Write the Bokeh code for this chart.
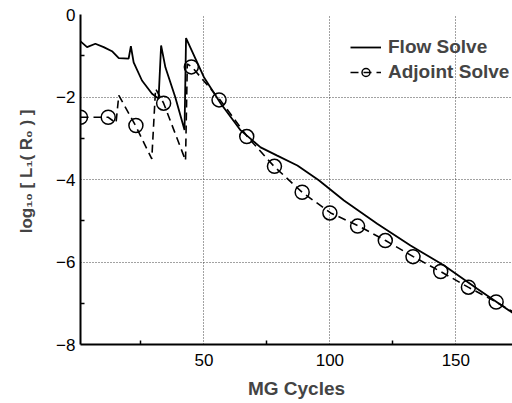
from bokeh.plotting import figure
from bokeh.models import FixedTicker, Title, Legend, LegendItem
from bokeh.embed import file_html
from bokeh.resources import INLINE

# ---- data ----
flow_x = [1, 3.6, 6.9, 10.2, 13.5, 16.2, 20.1, 21.0, 22.1, 25.4, 29.4, 32.0, 33.0, 34.7,
          38.6, 42.3, 42.9, 50.0, 56.6, 64.6, 72.5, 79.1, 87.1, 95.6, 105.6, 118.8,
          132.0, 145.2, 158.5, 172.5]
flow_y = [-0.65, -0.79, -0.71, -0.79, -0.89, -1.06, -1.07, -0.77, -1.16, -1.60, -1.92,
          -2.04, -0.75, -1.28, -2.00, -2.80, -0.57, -1.52, -2.15, -2.81, -3.22, -3.42,
          -3.66, -4.02, -4.51, -5.07, -5.60, -6.08, -6.65, -7.23]

adj_x = [1, 11.9, 15.1, 16.2, 22.8, 29.3, 30.8, 34.0, 42.7, 43.4, 45.2, 56.4, 67.2,
         77.8, 89.0, 100.3, 111.5, 122.1, 133.1, 143.9, 154.9, 166.0, 172.5]
adj_y = [-2.49, -2.49, -2.63, -1.96, -2.69, -3.50, -1.80, -2.15, -3.54, -1.20, -1.27,
         -2.07, -2.96, -3.68, -4.31, -4.81, -5.13, -5.48, -5.87, -6.23, -6.61, -6.97,
         -7.20]

mark_x = [1, 12, 23, 34, 45, 56, 67, 78, 89, 100, 111, 122, 133, 144, 155, 166]
mark_y = [-2.49, -2.49, -2.69, -2.15, -1.27, -2.07, -2.96, -3.68, -4.31, -4.81, -5.13,
          -5.48, -5.87, -6.23, -6.61, -6.97]

x_ticks = [50, 100, 150]
x_minor = [25, 75, 125]
y_ticks = [0, -2, -4, -6, -8]
y_minor = [-1, -3, -5, -7]

x_label = "MG Cycles"
y_label = "log\u2081\u2080 [ L\u2081( R\u2080 ) ]"
series_names = ["Flow Solve", "Adjoint Solve"]

FONT = "Liberation Sans"

p = figure(width=512, height=403, x_range=(1, 172.5), y_range=(-8, 0),
           output_backend="svg", toolbar_location=None,
           min_border_left=80, min_border_right=0, min_border_top=14,
           min_border_bottom=59)
p.outline_line_color = None
p.background_fill_color = "white"
p.border_fill_color = "white"

# axes
p.xaxis.ticker = FixedTicker(ticks=x_ticks, minor_ticks=x_minor)
p.yaxis.ticker = FixedTicker(ticks=y_ticks, minor_ticks=y_minor)
for ax in (p.xaxis[0], p.yaxis[0]):
    ax.axis_line_width = 2
    ax.axis_line_color = "black"
    ax.major_tick_in = 0
    ax.major_tick_out = 0
    ax.minor_tick_in = 4
    ax.minor_tick_out = 0
    ax.minor_tick_line_width = 1.5
    ax.minor_tick_line_color = "black"
    ax.major_label_text_font = FONT
    ax.major_label_text_font_size = "17px"
    ax.major_label_text_color = "black"
p.xaxis.major_label_standoff = 9
p.yaxis.major_label_standoff = 5
p.xaxis.axis_label = x_label
p.xaxis.axis_label_text_font = FONT
p.xaxis.axis_label_text_font_size = "19px"
p.xaxis.axis_label_text_font_style = "bold"
p.xaxis.axis_label_standoff = 9

t = Title(text=y_label, align="right", vertical_align="top", text_font=FONT,
          text_font_size="17px", text_font_style="bold", offset=95, standoff=32)
p.add_layout(t, "left")

# grid
p.xgrid.ticker = FixedTicker(ticks=x_ticks)
p.ygrid.ticker = FixedTicker(ticks=y_ticks)
for g in (p.xgrid[0], p.ygrid[0]):
    g.grid_line_color = "#444444"
    g.grid_line_dash = "1 2"
    g.grid_line_width = 1

# series
r_flow = p.line(flow_x, flow_y, line_color="black", line_width=1.8)
r_adj = p.line(adj_x, adj_y, line_color="black", line_width=1.6, line_dash="8 5")
r_mark = p.scatter(mark_x, mark_y, marker="circle", size=14, fill_color=None,
                   line_color="black", line_width=1.5)

legend = Legend(items=[LegendItem(label=series_names[0], renderers=[r_flow]),
                       LegendItem(label=series_names[1], renderers=[r_adj, r_mark])],
                location=(270, 261), border_line_color=None, background_fill_alpha=0,
                padding=0, margin=0, spacing=3, glyph_width=31, glyph_height=20,
                label_standoff=7, label_height=20, label_text_font=FONT,
                label_text_font_size="19px", label_text_font_style="bold")
p.add_layout(legend)

open("out.html", "w").write(file_html(p, INLINE))
